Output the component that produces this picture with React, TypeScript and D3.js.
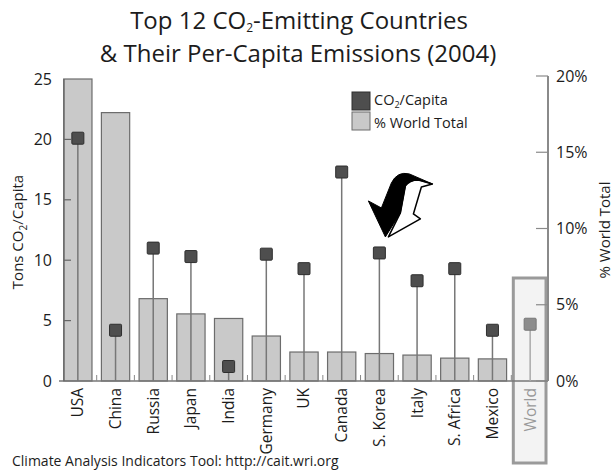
import React from 'react';
import * as d3 from 'd3';

const countries = ['USA', 'China', 'Russia', 'Japan', 'India', 'Germany', 'UK', 'Canada', 'S. Korea', 'Italy', 'S. Africa', 'Mexico', 'World'];
const tonsPerCapita = [20.1, 4.2, 11.0, 10.3, 1.2, 10.5, 9.3, 17.3, 10.6, 8.3, 9.3, 4.2, 4.7];
// % of world total; World itself has no bar
const worldShare = [22.2, 17.6, 5.4, 4.4, 4.1, 2.95, 1.9, 1.9, 1.8, 1.7, 1.5, 1.45, null];
const leftTicks = [0, 5, 10, 15, 20, 25];
const rightTicks = [0, 5, 10, 15, 20];

const W = 615;
const H = 472;
const font = '"Open Sans", "Noto Sans", sans-serif';
const ink = '#1c1c1c';

export default function App() {
  const x = d3.scaleBand<string>().domain(countries).range([59, 549]).padding(0);
  const yLeft = d3.scaleLinear().domain([0, 25]).range([381, 79]);
  const yRight = d3.scaleLinear().domain([0, 20]).range([381, 76]);
  const step = x.step();
  const barW = step * 0.75;
  const cx = (c: string) => (x(c) as number) + step / 2;
  const base = yLeft(0);

  // arrow anchored above S. Korea marker
  const ax = cx('S. Korea') + 6;
  const ay = yLeft(tonsPerCapita[8]) - 16;

  return (
    <svg width={W} height={H} style={{ position: 'absolute', left: 0, top: 0, background: '#fff' }} fontFamily={font}>
      {/* title */}
      <text x={299} y={29} textAnchor="middle" fontSize={24} fill={ink}>
        Top 12 CO<tspan fontSize={12} dy={3}>2</tspan><tspan dy={-3}>-Emitting Countries</tspan>
      </text>
      <text x={298} y={62} textAnchor="middle" fontSize={24} fill={ink}>
        &amp; Their Per-Capita Emissions (2004)
      </text>

      {/* world highlight box */}
      <rect x={(x('World') as number) + 2} y={278} width={step - 5} height={185} fill="#f3f3f3" stroke="#9a9a9a" strokeWidth={3} />

      {/* share bars */}
      {countries.map((c, i) => {
        const v = worldShare[i];
        if (v == null) return null;
        const top = Math.max(yRight(v), yLeft(25));
        return (
          <rect key={c} x={(x(c) as number) + step * 0.125} y={top} width={barW} height={base - top}
            fill="#c9c9c9" stroke="#6c6c6c" strokeWidth={1.2} />
        );
      })}

      {/* baseline and small separators */}
      <line x1={59} x2={548} y1={base} y2={base} stroke="#777" strokeWidth={1.5} />
      {countries.slice(1).map((c) => (
        <line key={c} x1={x(c) as number} x2={x(c) as number} y1={base} y2={base - 6} stroke="#888" strokeWidth={1} />
      ))}

      {/* left axis */}
      <line x1={64} x2={64} y1={yLeft(25)} y2={base} stroke="#666" strokeWidth={1.2} />
      {leftTicks.map((t) => (
        <g key={t}>
          {t > 0 && t < 25 && <line x1={64} x2={71} y1={yLeft(t)} y2={yLeft(t)} stroke="#666" strokeWidth={1.2} />}
          <text x={52} y={yLeft(t)} dy="0.35em" textAnchor="end" fontSize={16} fill={ink}>{t}</text>
        </g>
      ))}
      <text transform={`translate(23, 232) rotate(-90)`} textAnchor="middle" fontSize={15} fill={ink}>
        Tons CO<tspan fontSize={10} dy={4}>2</tspan><tspan dy={-4}>/Capita</tspan>
      </text>

      {/* right axis */}
      <line x1={548} x2={548} y1={yRight(20)} y2={base} stroke="#8a8a8a" strokeWidth={2} />
      {rightTicks.map((t) => (
        <g key={t}>
          <line x1={536} x2={548} y1={yRight(t)} y2={yRight(t)} stroke="#8a8a8a" strokeWidth={1.2} />
          <text x={556} y={yRight(t)} dy="0.35em" fontSize={16} fill={ink}>{t}%</text>
        </g>
      ))}
      <text transform={`translate(610, 230) rotate(-90)`} textAnchor="middle" fontSize={15} fill={ink}>
        % World Total
      </text>

      {/* stems + markers */}
      {countries.map((c, i) => {
        const world = c === 'World';
        const my = yLeft(tonsPerCapita[i]);
        return (
          <g key={c}>
            <line x1={cx(c)} x2={cx(c)} y1={base} y2={my} stroke={world ? '#aaa' : '#777'} strokeWidth={1.5} />
            <rect x={cx(c) - 6} y={my - 6} width={12} height={12} rx={1}
              fill={world ? '#8c8c8c' : '#4e4e4e'} stroke={world ? '#777' : '#2e2e2e'} strokeWidth={1} />
          </g>
        );
      })}

      {/* category labels */}
      {countries.map((c) => (
        <text key={c} transform={`translate(${cx(c)}, 388) rotate(-90)`} textAnchor="end" dy="0.35em"
          fontSize={15.5} fill={c === 'World' ? '#999' : ink}>{c}</text>
      ))}

      {/* legend */}
      <rect x={352} y={92} width={18} height={18} fill="#4e4e4e" stroke="#2e2e2e" />
      <rect x={352} y={112} width={18} height={18} fill="#c9c9c9" stroke="#6c6c6c" />
      <text x={374} y={105} fontSize={14.5} fill={ink}>
        CO<tspan fontSize={9} dy={3}>2</tspan><tspan dy={-3}>/Capita</tspan>
      </text>
      <text x={374} y={128} fontSize={14.5} fill={ink}>% World Total</text>

      {/* arrow annotation */}
      <g transform={`translate(${ax}, ${ay})`}>
        <path d="M 47 -53 L 36 -50 L 28 -23 L 35 -18 L 3 0 L 15 -24 L 20 -51 Q 24 -57 33 -57 Z" fill="#fff" stroke="#000" strokeWidth={1.5} strokeLinejoin="round" />
        <path d="M 0 0 L -17 -36 L -4 -29 L 6 -54 Q 12 -66 24 -63 L 47 -53 L 33 -57 Q 24 -57 20 -51 L 15 -24 Z" fill="#000" stroke="#000" strokeWidth={1} strokeLinejoin="round" />
      </g>

      {/* source */}
      <text x={12} y={466} fontSize={14} fill={ink}>Climate Analysis Indicators Tool:  http://cait.wri.org</text>
    </svg>
  );
}
